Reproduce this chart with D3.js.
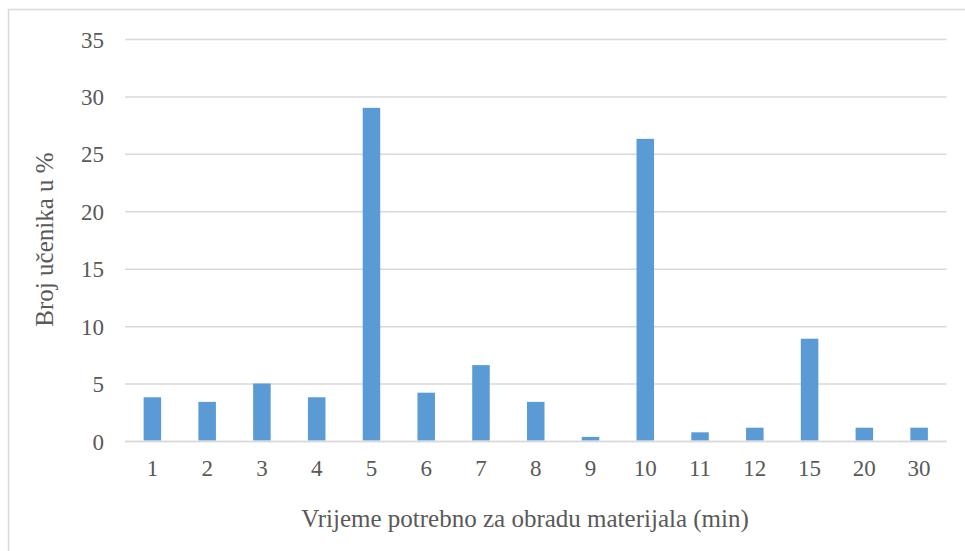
<!DOCTYPE html>
<html>
<head>
<meta charset="utf-8">
<script src="https://cdn.jsdelivr.net/npm/d3@7"></script>
<style>
  html, body { margin: 0; padding: 0; background: #fff; }
  svg { display: block; }
  text { font-family: "Liberation Serif", "Times New Roman", serif; }
</style>
</head>
<body>
<svg id="chart" width="965" height="551"></svg>
<script>
const categories = ["1","2","3","4","5","6","7","8","9","10","11","12","15","20","30"];
const values = [3.85, 3.45, 5.05, 3.85, 29.05, 4.25, 6.65, 3.45, 0.4, 26.35, 0.8, 1.2, 8.95, 1.2, 1.2];
const yTicks = [0, 5, 10, 15, 20, 25, 30, 35];
const xTitle = "Vrijeme potrebno za obradu materijala (min)";
const yTitle = "Broj učenika u %";

(function () {
const svg = d3.select("#chart");
const textColor = "#595959";

// frame
svg.append("path")
  .attr("d", "M8.5,560 L8.5,9.5 L975,9.5")
  .attr("fill", "none").attr("stroke", "#d9d9d9").attr("stroke-width", 1.5);

const pLeft = 125, pRight = 946.5, pTop = 39.5, pBottom = 441.5;

const x = d3.scaleBand().domain(categories).range([pLeft, pRight])
  .paddingInner(0.68).paddingOuter(0.34);
const y = d3.scaleLinear().domain([0, 35]).range([pBottom, pTop]);

// gridlines
svg.append("g").selectAll("line").data(yTicks).join("line")
  .attr("x1", pLeft).attr("x2", pRight)
  .attr("y1", d => y(d)).attr("y2", d => y(d))
  .attr("stroke", "#d9d9d9").attr("stroke-width", 1.5);

// y tick labels
svg.append("g").selectAll("text").data(yTicks).join("text")
  .attr("x", 104).attr("y", d => y(d))
  .attr("dy", "0.35em")
  .attr("text-anchor", "end")
  .attr("font-size", 23)
  .attr("fill", textColor)
  .text(d => d);

// bars
svg.append("g").selectAll("rect").data(values).join("rect")
  .attr("x", (d, i) => x(categories[i]))
  .attr("width", x.bandwidth())
  .attr("y", d => y(d))
  .attr("height", d => y(0) - y(d) - 1)
  .attr("fill", "#5b9bd5");

// zero line on top
svg.append("line")
  .attr("x1", pLeft).attr("x2", pRight)
  .attr("y1", y(0)).attr("y2", y(0))
  .attr("stroke", "#d9d9d9").attr("stroke-width", 1.5);

// x tick labels
svg.append("g").selectAll("text").data(categories).join("text")
  .attr("x", d => x(d) + x.bandwidth() / 2)
  .attr("y", 476)
  .attr("text-anchor", "middle")
  .attr("font-size", 23)
  .attr("fill", textColor)
  .text(d => d);

// axis titles
svg.append("text")
  .attr("x", 525).attr("y", 527)
  .attr("text-anchor", "middle")
  .attr("font-size", 25)
  .attr("fill", textColor)
  .text(xTitle);

svg.append("text")
  .attr("transform", `translate(53, ${(pTop + pBottom) / 2 - 1}) rotate(-90)`)
  .attr("text-anchor", "middle")
  .attr("font-size", 25)
  .attr("fill", textColor)
  .text(yTitle);
})();
</script>
</body>
</html>
